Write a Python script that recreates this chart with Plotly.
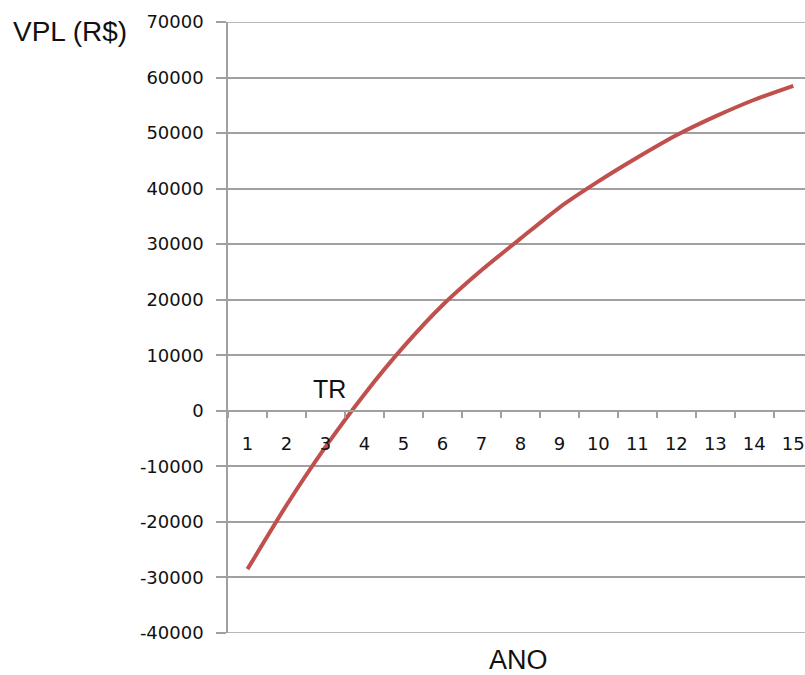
import plotly.graph_objects as go

# Net present value (VPL) per year
anos = [str(a) for a in range(1, 16)]
vpl = [-28500, -17000, -6500, 3000, 11500, 19000, 25300, 31000,
       36600, 41300, 45600, 49600, 53000, 56000, 58500]

y_ticks = [70000, 60000, 50000, 40000, 30000, 20000, 10000, 0,
           -10000, -20000, -30000, -40000]
y_labels = ["70000", "60000", "50000", "40000", "30000", "20000", "10000", "0",
            "-10000", "-20000", "-30000", "-40000"]

y_min, y_max = min(y_ticks), max(y_ticks)
grid = "#a0a0a0"
txt = "#111111"

fig = go.Figure()
fig.add_trace(go.Scatter(
    x=anos, y=vpl, mode="lines",
    line=dict(color="#C0504D", width=4, shape="spline", smoothing=0.6),
    hoverinfo="x+y", showlegend=False,
))

# gridlines on the range edges, which plotly leaves out
edge_lines = [
    dict(type="line", xref="paper", yref="y", x0=0, x1=1, y0=v, y1=v,
         line=dict(color=grid, width=1.5), layer="below")
    for v in (y_min, y_max)
]

fig.update_layout(
    width=805, height=675,
    margin=dict(l=228, r=0, t=22, b=42),
    paper_bgcolor="white", plot_bgcolor="white",
    shapes=edge_lines,
    xaxis=dict(
        type="category", range=[-0.5, 14.3],
        anchor="free", position=(0 - y_min) / (y_max - y_min),
        showline=True, linecolor=grid, linewidth=1.5,
        ticks="outside", tickson="boundaries", ticklen=6, tickcolor=grid, tickwidth=1.5,
        showgrid=False, zeroline=False,
        tickfont=dict(family="DejaVu Sans", size=18, color=txt),
        ticklabelstandoff=17,
    ),
    yaxis=dict(
        range=[y_min, y_max],
        tickvals=y_ticks, ticktext=y_labels,
        showline=True, linecolor=grid, linewidth=1.5,
        ticks="outside", ticklen=10, tickcolor=grid, tickwidth=1.5,
        showgrid=True, gridcolor=grid, gridwidth=1.5,
        zeroline=False,
        tickfont=dict(family="DejaVu Sans", size=18, color=txt),
        ticklabelstandoff=9,
    ),
    annotations=[
        dict(text="VPL (R$)", xref="paper", yref="paper",
             x=(70 - 228) / 577, y=1 + (22 - 31) / 611,
             xanchor="center", yanchor="middle",
             showarrow=False, font=dict(family="Liberation Sans", size=28, color=txt)),
        dict(text="ANO", xref="paper", yref="paper",
             x=(518 - 228) / 577, y=-(660 - 633) / 611,
             xanchor="center", yanchor="middle",
             showarrow=False, font=dict(family="Liberation Sans", size=27, color=txt)),
        dict(text="TR", xref="x", yref="y", x=2.1, y=4000,
             xanchor="center", yanchor="middle",
             showarrow=False, font=dict(family="Liberation Sans", size=25, color=txt)),
    ],
)

fig.write_html("out.html")
